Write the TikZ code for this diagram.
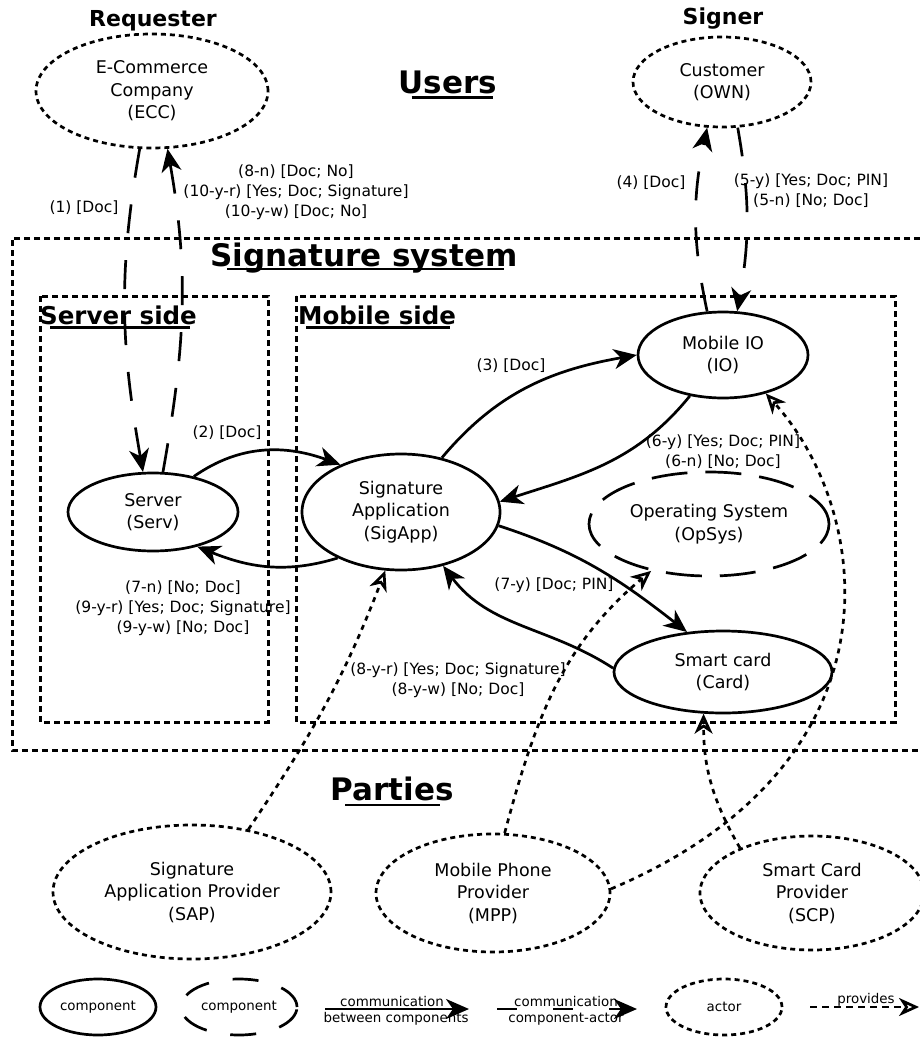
\documentclass[tikz,border=0pt]{standalone}
\usepackage{fontspec}
\setmainfont{DejaVu Sans}
\usetikzlibrary{shapes.geometric,arrows.meta,calc}
\begin{document}
\begin{tikzpicture}[x=1pt,y=1pt,
 comp/.style={ellipse, draw, line width=2.7pt, inner sep=0pt, align=center, font=\fontsize{17.5}{22.5}\selectfont},
 compdash/.style={comp, dash pattern=on 36pt off 18pt},
 actor/.style={comp, dash pattern=on 5pt off 4pt},
 lbl/.style={align=center, inner sep=0pt, font=\fontsize{15.5}{20}\selectfont},
 msg/.style={line width=2.7pt, -{Stealth[length=23pt,width=20pt,inset=7pt]}},
 msgact/.style={msg, dash pattern=on 29pt off 27pt},
 provides/.style={line width=2.7pt, dash pattern=on 5pt off 5pt, -{Stealth[open,length=20pt,width=18pt,inset=6pt]}},
 boxline/.style={line width=3pt, dash pattern=on 6pt off 4pt},
 bigtitle/.style={inner sep=0pt, font=\fontsize{31}{37}\selectfont\bfseries},
 role/.style={inner sep=0pt, font=\fontsize{22}{26}\selectfont\bfseries},
 sidetitle/.style={inner sep=0pt, font=\fontsize{24.5}{29}\selectfont\bfseries},
 ul/.style={line width=2.2pt},
 legtext/.style={inner sep=0pt, font=\fontsize{13.4}{15}\selectfont},
 legnode/.style={minimum width=116pt, minimum height=56pt, font=\fontsize{13.4}{15}\selectfont}
]
\useasboundingbox (0,0) rectangle (920,-1038);

% titles
\node[role, anchor=base] (req) at (153,-27) {Requester};
\node[role, anchor=base] (sig) at (723,-25) {Signer};
\node[bigtitle, anchor=base] (users) at (448,-94) {Users};
\draw[ul] ($(users.base west)+(13,-3.5)$) -- ($(users.base east)+(-4,-3.5)$);
\node[bigtitle, anchor=base west] (sigsys) at (210,-266) {Signature system};
\draw[ul] ($(sigsys.base west)+(17,-3)$) -- ($(sigsys.base east)+(-14,-3)$);
\node[sidetitle, anchor=base west] (srvside) at (40,-324) {Server side};
\draw[ul] ($(srvside.base west)+(10,-3.5)$) -- ($(srvside.base east)+(-7,-3.5)$);
\node[sidetitle, anchor=base west] (mobside) at (298,-324) {Mobile side};
\draw[ul] ($(mobside.base west)+(8,-3.5)$) -- ($(mobside.base east)+(-6,-3.5)$);
\node[bigtitle, anchor=base] (parties) at (392,-800) {Parties};
\draw[ul] ($(parties.base west)+(15,-5)$) -- ($(parties.base east)+(-14,-5)$);

% boxes
\draw[boxline] (920,-238) -- (12,-238) -- (12,-750) -- (920,-750);
\draw[boxline] (40,-296) rectangle (268,-722);
\draw[boxline] (296,-296) rectangle (895,-722);

% actors
\node[actor, minimum width=232pt, minimum height=114pt] (ECC) at (152,-91) {E-Commerce\\Company\\(ECC)};
\node[actor, minimum width=178pt, minimum height=90pt] (OWN) at (722,-82) {Customer\\(OWN)};

% components
\node[comp, minimum width=170pt, minimum height=78pt] (Serv) at (153,-512) {Server\\(Serv)};
\node[comp, minimum width=198pt, minimum height=116pt] (SigApp) at (401,-512) {Signature\\Application\\(SigApp)};
\node[comp, minimum width=170pt, minimum height=86pt] (IO) at (723,-355) {Mobile IO\\(IO)};
\node[compdash, minimum width=240pt, minimum height=104pt] (OpSys) at (709,-524) {Operating System\\(OpSys)};
\node[comp, minimum width=218pt, minimum height=82pt] (Card) at (723,-672) {Smart card\\(Card)};

% parties
\node[actor, minimum width=278pt, minimum height=134pt] (SAP) at (192,-892) {Signature\\Application Provider\\(SAP)};
\node[actor, minimum width=234pt, minimum height=118pt] (MPP) at (493,-893) {Mobile Phone\\Provider\\(MPP)};
\node[actor, minimum width=224pt, minimum height=114pt] (SCP) at (812,-893) {Smart Card\\Provider\\(SCP)};

% communication
\draw[msgact] (ECC.-102) to[out=-100,in=100] (Serv.104);
\draw[msgact] (Serv.76) to[out=80,in=-80] (ECC.-75);
\draw[msg] (Serv.41) to[out=35,in=160] (SigApp.142);
\draw[msg] (SigApp.216) to[out=197,in=-22] (Serv.-38);
\draw[msg] (SigApp.53) to[out=50,in=190] (IO.180);
\draw[msg] (IO.-129) to[out=-129,in=18] (SigApp.6);
\draw[msg] (SigApp.-8) to[out=-18,in=142] (Card.132);
\draw[msg] (Card.178) to[out=147,in=-53] (SigApp.-52);
\draw[msgact] (IO.110) to[out=102,in=-102] (OWN.-108);
\draw[msgact] (OWN.-71) to[out=-80,in=80] (IO.72);

% provides
\draw[provides] (SAP.48) to[out=56,in=-111] (SigApp.-105);
\draw[provides] (MPP.79) to[out=75,in=-140] (OpSys.-141);
\draw[provides] (MPP.2) .. controls +(299,127) and +(105,-116) .. (IO.-42);
\draw[provides] (SCP.148) to[out=120,in=-90] (Card.-115);

% labels
\node[lbl] (l1) at (84,-208) {(1) [Doc]};
\node[lbl] (l2) at (296,-192) {(8-n) [Doc; No]\\(10-y-r) [Yes; Doc; Signature]\\(10-y-w) [Doc; No]};
\node[lbl] (l3) at (227,-433) {(2) [Doc]};
\node[lbl] (l4) at (183,-608) {(7-n) [No; Doc]\\(9-y-r) [Yes; Doc; Signature]\\(9-y-w) [No; Doc]};
\node[lbl] (l5) at (511,-366) {(3) [Doc]};
\node[lbl] (l6) at (723,-452) {(6-y) [Yes; Doc; PIN]\\(6-n) [No; Doc]};
\node[lbl] (l7) at (554,-585) {(7-y) [Doc; PIN]};
\node[lbl] (l8) at (458,-680) {(8-y-r) [Yes; Doc; Signature]\\(8-y-w) [No; Doc]};
\node[lbl] (l9) at (651,-183) {(4) [Doc]};
\node[lbl] (l10) at (811,-191) {(5-y) [Yes; Doc; PIN]\\(5-n) [No; Doc]};

% legend
\node[comp, legnode] (lg1) at (98,-1007) {component};
\node[comp, legnode, dash pattern=on 26pt off 24pt] (lg2) at (239,-1007) {component};
\coordinate (la1) at (325,-1009);
\coordinate (la2) at (469,-1009);
\draw[msg] (la1) -- (la2);
\node[legtext, anchor=base] (lt1) at (392,-1006) {communication};
\node[legtext, anchor=base] (lt2) at (396,-1022) {between components};
\coordinate (lb1) at (497,-1009);
\coordinate (lb2) at (637,-1009);
\draw[msg, dash pattern=on 20pt off 36pt] (lb1) -- (lb2);
\node[legtext, anchor=base] (lt3) at (566,-1006) {communication};
\node[legtext, anchor=base] (lt4) at (566,-1022) {component-actor};
\node[actor, legnode] (lg3) at (724,-1007) {actor};
\coordinate (lc1) at (810,-1007);
\coordinate (lc2) at (919,-1007);
\draw[provides, dash pattern=on 7pt off 5pt] (lc1) -- (lc2);
\node[legtext, anchor=base] (lt5) at (866,-1003) {provides};
\end{tikzpicture}
\end{document}
